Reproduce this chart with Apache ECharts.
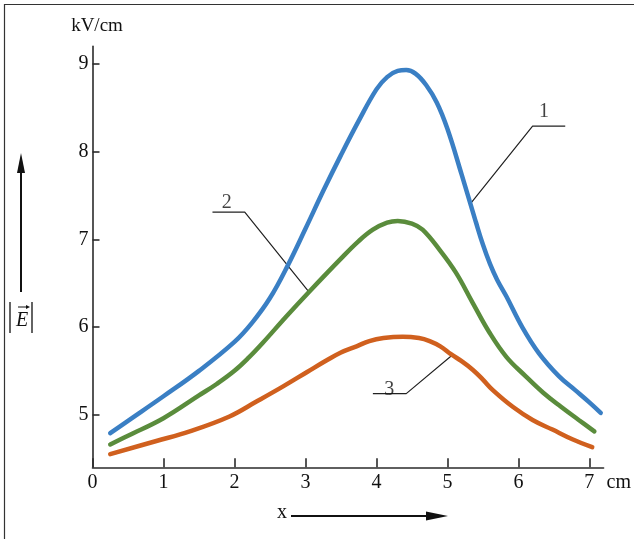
<!DOCTYPE html>
<html>
<head>
<meta charset="utf-8">
<script src="https://cdn.jsdelivr.net/npm/echarts@6/dist/echarts.min.js"></script>
<style>html,body{margin:0;padding:0;background:#fff}#c{width:634px;height:539px}</style>
</head>
<body>
<div id="c"></div>
<script>
// Curve 1 (blue)
const x1 = [0.25, 0.5, 1.0, 1.5, 2.0, 2.25, 2.5, 2.75, 3.0, 3.25, 3.5, 3.75, 4.0, 4.15, 4.3, 4.42, 4.55, 4.7, 4.85, 5.0, 5.2, 5.4, 5.5, 5.6, 5.7, 5.83, 6.06, 6.29, 6.57, 6.8, 7.0, 7.16];
const y1 = [4.79, 4.93, 5.21, 5.50, 5.83, 6.05, 6.33, 6.70, 7.12, 7.55, 7.96, 8.35, 8.71, 8.85, 8.92, 8.93, 8.89, 8.76, 8.56, 8.26, 7.74, 7.20, 6.94, 6.72, 6.54, 6.35, 5.99, 5.70, 5.44, 5.28, 5.14, 5.02];
// Curve 2 (green)
const x2 = [0.25, 0.5, 1.0, 1.5, 1.75, 2.0, 2.2, 2.4, 2.73, 3.05, 3.5, 3.75, 3.95, 4.15, 4.3, 4.5, 4.65, 4.89, 5.12, 5.36, 5.59, 5.83, 6.1, 6.35, 6.6, 6.85, 7.07];
const y2 = [4.66, 4.76, 4.96, 5.22, 5.35, 5.50, 5.65, 5.82, 6.12, 6.40, 6.78, 6.98, 7.11, 7.19, 7.21, 7.18, 7.11, 6.88, 6.62, 6.27, 5.94, 5.66, 5.44, 5.25, 5.09, 4.94, 4.81];
// Curve 3 (orange)
const x3 = [0.25, 0.9, 1.37, 1.93, 2.31, 2.68, 3.03, 3.3, 3.5, 3.72, 3.9, 4.1, 4.37, 4.6, 4.75, 4.9, 5.05, 5.2, 5.36, 5.5, 5.64, 5.92, 6.2, 6.48, 6.76, 7.04];
const y3 = [4.55, 4.70, 4.81, 4.98, 5.15, 5.32, 5.49, 5.62, 5.71, 5.78, 5.84, 5.875, 5.89, 5.875, 5.84, 5.78, 5.69, 5.61, 5.51, 5.40, 5.28, 5.09, 4.94, 4.83, 4.72, 4.63];
// Axis ticks
const xTicks = [0, 1, 2, 3, 4, 5, 6, 7];
const yTicks = [5, 6, 7, 8, 9];
// Curve labels and leader lines (data units)
const curveNames = ['1', '2', '3'];
const labelPos = [[6.36, 8.46], [1.89, 7.42], [4.18, 5.29]];
const leader1 = [[5.32, 7.40], [6.20, 8.29], [6.66, 8.29]];
const leader2 = [[1.69, 7.31], [2.145, 7.31], [3.06, 6.39]];
const leader3 = [[3.95, 5.24], [4.42, 5.24], [5.07, 5.68]];

const zip = (xs, ys) => xs.map((x, i) => [x, ys[i]]);
const serif = 'Liberation Serif, DejaVu Serif, serif';
const axisColor = '#2b2b2b';

function curve(xs, ys, color) {
  return { type: 'line', data: zip(xs, ys), smooth: 0.4, symbol: 'none',
    lineStyle: { color: color, width: 4.5, cap: 'round' }, z: 3, silent: true };
}
function leader(pts) {
  return { type: 'line', data: pts, symbol: 'none', smooth: false,
    lineStyle: { color: '#222', width: 1.2 }, z: 2, silent: true };
}

const chart = echarts.init(document.getElementById('c'), null, { renderer: 'canvas' });
chart.setOption({
  animation: false,
  backgroundColor: '#fff',
  grid: { left: 92.5, right: 29.3, top: 46.4, bottom: 71.7, containLabel: false },
  xAxis: {
    type: 'value', min: 0, max: 7.2, interval: 1,
    name: 'cm', nameLocation: 'end', nameGap: 3,
    nameTextStyle: { fontFamily: serif, fontSize: 20, color: '#111', verticalAlign: 'top', padding: [5, 0, 0, 0] },
    axisLine: { show: true, onZero: false, lineStyle: { color: axisColor, width: 1.6 } },
    axisTick: { show: true, inside: true, length: 9, customValues: xTicks, lineStyle: { color: axisColor, width: 1.6 } },
    axisLabel: { customValues: xTicks, fontFamily: serif, fontSize: 20, color: '#111', margin: 5 },
    splitLine: { show: false }
  },
  yAxis: {
    type: 'value', min: 4.4, max: 9.2,
    name: 'kV/cm', nameLocation: 'end', nameGap: 11,
    nameTextStyle: { fontFamily: serif, fontSize: 19, color: '#111', align: 'center', padding: [0, 0, 0, 9] },
    axisLine: { show: true, onZero: false, lineStyle: { color: axisColor, width: 1.6 } },
    axisTick: { show: true, inside: true, length: 7, customValues: yTicks, lineStyle: { color: axisColor, width: 1.6 } },
    axisLabel: { customValues: yTicks, fontFamily: serif, fontSize: 20, color: '#111', margin: 4 },
    splitLine: { show: false }
  },
  series: [
    leader(leader1), leader(leader2), leader(leader3),
    curve(x1, y1, '#3a7fc4'),
    curve(x2, y2, '#5a8c3c'),
    curve(x3, y3, '#d0601e'),
    { type: 'scatter', symbolSize: 1, itemStyle: { color: 'rgba(0,0,0,0)' }, silent: true,
      data: curveNames.map((n, i) => ({ name: n, value: labelPos[i] })),
      label: { show: true, position: 'inside', formatter: '{b}', fontFamily: serif, fontSize: 20, color: '#111' } }
  ],
  graphic: [
    { type: 'rect', shape: { x: 4.5, y: 4.5, width: 800, height: 800 }, style: { fill: 'none', stroke: '#333', lineWidth: 1.2 }, silent: true },
    // vertical arrow on the left
    { type: 'line', shape: { x1: 21, y1: 292, x2: 21, y2: 168 }, style: { stroke: '#111', lineWidth: 2 } },
    { type: 'polygon', shape: { points: [[21, 153], [17, 173], [25, 173]] }, style: { fill: '#111' } },
    // |E| label
    { type: 'line', shape: { x1: 10, y1: 302, x2: 10, y2: 333 }, style: { stroke: '#222', lineWidth: 1.4 } },
    { type: 'line', shape: { x1: 32, y1: 302, x2: 32, y2: 333 }, style: { stroke: '#222', lineWidth: 1.4 } },
    { type: 'text', x: 22, y: 321, style: { text: 'E', fontFamily: serif, fontStyle: 'italic', fontSize: 20, fill: '#111', align: 'center', verticalAlign: 'middle' } },
    { type: 'line', shape: { x1: 18, y1: 307, x2: 28, y2: 307 }, style: { stroke: '#111', lineWidth: 1 } },
    { type: 'polygon', shape: { points: [[30, 307], [26, 305], [26, 309]] }, style: { fill: '#111' } },
    // x arrow
    { type: 'text', x: 282, y: 513, style: { text: 'x', fontFamily: serif, fontSize: 20, fill: '#111', align: 'center', verticalAlign: 'middle' } },
    { type: 'line', shape: { x1: 291, y1: 516, x2: 430, y2: 516 }, style: { stroke: '#111', lineWidth: 2.2 } },
    { type: 'polygon', shape: { points: [[448, 516], [426, 511.5], [426, 520.5]] }, style: { fill: '#111' } }
  ]
});
</script>
</body>
</html>
